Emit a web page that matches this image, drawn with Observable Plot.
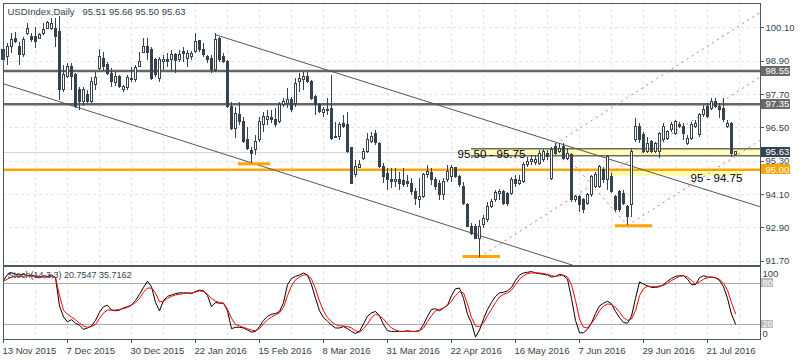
<!DOCTYPE html>
<html><head><meta charset="utf-8">
<script src="https://cdn.jsdelivr.net/npm/d3@7"></script>
<script src="https://cdn.jsdelivr.net/npm/@observablehq/plot@0.6"></script>
<style>
body{margin:0;background:#fff;}
#wrap{position:relative;width:800px;height:360px;overflow:hidden;background:#fff;}
#main{position:absolute;left:0;top:0;}
#stoch{position:absolute;left:0;top:265px;}
</style></head><body><div id="wrap"><div id="main"></div><div id="stoch"></div></div>
<script>
// ---------- DATA ----------
const opens = [
98.95,99.05,99.41,99.71,99.41,99.11,99.89,99.77,99.77,99.71,
99.89,100.07,100.07,100.07,99.95,97.85,98.33,98.69,98.39,97.87,
97.43,97.67,97.43,98.03,98.63,98.99,98.75,98.45,98.11,98.33,
97.87,97.95,98.21,98.21,98.71,99.19,99.43,99.31,98.93,98.27,
98.87,98.93,98.93,99.11,98.93,99.23,98.99,99.05,99.23,99.63,
99.31,99.05,98.99,98.57,99.71,99.05,98.87,97.25,96.47,96.95,
96.71,96.05,95.67,95.69,96.05,96.59,96.79,96.85,96.79,96.71,
97.31,97.37,97.49,97.37,98.15,98.21,98.33,98.15,97.61,97.31,
97.05,97.15,97.19,96.19,96.19,96.65,96.59,95.79,94.79,95.07,
95.39,95.63,95.99,96.27,95.93,95.09,94.85,94.61,94.55,94.61,
94.59,94.57,94.49,94.19,93.89,94.01,94.81,94.87,94.63,94.49,
94.07,94.61,94.73,95.05,94.73,94.37,93.71,92.95,92.95,92.51,
92.99,93.17,93.67,93.89,94.13,94.21,94.11,94.11,94.61,94.47,
94.55,95.15,95.27,95.23,95.21,95.33,95.57,94.67,95.81,95.63,
95.81,95.39,95.51,93.89,94.03,93.89,93.77,94.07,94.37,94.37,
94.97,94.61,94.73,94.01,94.19,94.13,93.65,93.71,96.05,96.53,
96.23,95.63,95.99,95.63,95.63,96.05,96.11,96.41,96.29,96.59,
96.53,95.93,96.11,96.53,96.23,96.95,97.25,97.19,97.43,97.25,
97.19,96.53,96.65,95.51];
const highs = [
99.40,99.55,99.89,99.93,99.59,99.75,100.25,99.89,100.13,99.91,
100.25,100.35,100.43,100.43,100.50,98.75,98.81,98.81,98.45,97.97,
97.95,97.85,98.33,98.51,99.31,99.23,98.87,98.63,98.51,98.39,
98.03,98.39,98.69,98.75,99.23,99.71,99.71,99.41,98.99,99.05,
99.11,99.17,99.29,99.17,99.29,99.41,99.29,99.25,99.89,99.65,
99.53,99.11,99.11,99.89,99.77,99.17,98.93,97.43,97.25,97.43,
96.87,96.53,95.81,96.23,96.89,97.07,97.13,97.13,97.19,97.43,
97.55,97.91,97.61,98.27,98.45,98.51,98.51,98.21,97.67,97.37,
97.25,97.55,98.39,96.71,96.71,96.95,97.07,95.81,95.33,95.33,
95.75,96.29,96.35,96.41,95.99,95.21,95.03,95.03,95.03,94.91,
95.03,94.79,94.67,94.31,94.67,94.85,95.15,95.03,94.73,94.61,
94.67,95.15,95.15,95.09,94.79,94.55,93.77,93.05,93.03,93.17,
93.35,93.83,93.91,94.25,94.27,94.25,94.19,94.73,94.79,94.79,
95.27,95.45,95.51,95.51,95.69,95.71,95.69,95.81,95.93,95.93,
95.93,95.75,95.57,94.07,94.07,93.95,94.13,94.79,94.91,95.15,
95.09,95.51,94.85,94.07,94.25,94.25,93.71,95.75,96.83,96.65,
96.35,96.17,96.05,95.99,96.35,96.65,96.41,96.71,96.77,96.71,
96.65,96.23,96.71,96.77,97.01,97.31,97.37,97.55,97.55,97.37,
97.55,96.77,96.71,95.66];
const lows = [
98.85,98.75,99.17,99.55,98.75,99.05,99.83,99.59,99.35,99.67,
99.83,100.03,100.00,99.41,97.49,97.79,98.27,97.85,97.19,97.13,
97.27,97.37,97.37,97.85,98.57,98.57,98.39,97.97,97.99,97.91,
97.79,97.85,98.15,98.15,98.69,99.17,98.93,98.21,98.33,98.15,
98.57,98.69,98.57,98.45,98.87,98.87,98.69,98.93,99.17,99.23,
99.05,98.81,98.45,98.51,98.87,98.81,97.19,96.41,96.11,96.59,
95.95,95.69,95.21,95.51,95.99,96.35,96.59,96.65,96.53,96.65,
97.25,97.19,97.07,97.25,97.79,97.85,98.09,97.49,96.95,97.01,
96.89,96.95,96.05,96.11,96.05,96.47,95.57,94.47,94.73,95.03,
95.33,95.57,95.93,95.87,95.03,94.49,94.25,94.31,94.37,94.25,
94.37,94.37,94.07,93.71,93.59,93.95,94.67,94.43,94.25,93.89,
93.89,94.55,94.55,94.67,94.37,93.71,92.91,92.63,92.47,91.85,
92.87,93.11,93.59,93.83,93.89,93.71,93.67,94.07,94.37,94.43,
94.49,95.09,95.15,95.15,95.15,95.27,95.33,94.61,95.51,95.57,
95.33,95.33,93.83,93.83,93.47,93.41,93.71,94.01,94.31,94.31,
94.49,94.25,94.13,93.47,93.47,93.71,92.99,93.29,95.99,95.93,
95.57,95.57,95.57,95.57,95.39,95.99,96.05,96.35,96.23,96.47,
96.05,95.87,96.05,96.47,96.17,96.89,96.83,97.13,97.19,96.83,
96.71,96.47,95.45,95.50];
const closes = [
99.30,99.41,99.67,99.59,99.11,99.65,100.07,99.65,99.61,99.85,
100.01,100.27,100.25,99.77,97.85,98.39,98.69,98.33,97.25,97.43,
97.85,97.43,98.15,98.31,99.05,98.69,98.45,98.15,98.35,97.99,
97.99,98.31,98.27,98.67,98.89,99.43,99.19,98.27,98.39,98.93,
98.95,98.87,99.11,98.91,99.11,99.15,99.17,99.15,99.59,99.29,
99.11,98.95,98.57,99.65,98.93,98.87,97.25,96.47,97.01,96.71,
95.99,95.75,95.55,95.99,96.71,96.89,96.89,96.77,96.59,97.31,
97.43,97.49,97.13,98.09,98.27,98.33,98.15,97.55,97.31,97.07,
97.13,97.11,96.11,96.13,96.59,96.53,95.63,94.49,95.09,95.15,
95.63,96.05,96.17,95.95,95.09,94.75,94.61,94.55,94.61,94.49,
94.43,94.49,94.19,93.95,94.01,94.79,94.91,94.61,94.37,94.07,
94.55,94.91,95.05,94.73,94.43,93.77,92.95,92.69,92.51,92.95,
93.23,93.67,93.83,94.15,94.21,93.77,93.77,94.61,94.49,94.59,
95.17,95.27,95.33,95.35,95.57,95.63,95.45,95.71,95.57,95.75,
95.39,95.57,93.89,94.01,93.71,93.53,94.07,94.73,94.79,95.09,
94.61,95.45,94.19,93.55,93.53,93.77,93.29,95.63,96.53,96.05,
95.63,95.93,95.63,95.93,96.29,96.53,96.35,96.59,96.71,96.53,
96.29,96.11,96.59,96.65,96.95,97.15,96.89,97.43,97.25,97.13,
96.77,96.65,95.57,95.63];

const stochK = [
84,93,95,93,92,93,91,92,90,88,91,90,92,88,
47,31,24,27,22,19,13,15,18,26,38,46,48,41,
40,41,44,46,48,55,64,74,83,75,52,40,55,61,
63,65,66,66,66,65,68,70,69,62,46,52,51,51,
40,14,16,16,15,12,9,10,17,26,32,35,36,39,
52,78,87,90,92,95,92,78,58,40,30,25,19,15,
15,17,14,10,7,10,21,32,37,39,33,20,11,10,10,
10,10,11,10,10,11,20,32,42,43,40,44,48,62,72,
73,58,35,22,2,12,28,42,52,61,66,67,69,74,84,
92,95,96,97,95,94,93,92,89,90,93,91,86,58,26,
8,8,13,22,36,47,51,54,50,39,30,23,22,32,58,
82,79,76,74,74,75,78,83,87,90,91,91,86,78,78,
88,91,89,89,88,84,75,58,35,20.75];
const stochD = [
83,86,89,90,90,90,91,90,91,90,89,89,90,88,
62,41,35,31,27,22,18,16,17,20,29,37,41,41,
41,42,43,45,48,52,58,67,73,73,66,53,54,58,
61,63,64,65,66,66,67,69,68,64,58,54,52,51,
42,29,20,18,16,14,12,11,14,21,27,31,34,37,
45,62,76,85,89,92,92,86,72,54,40,30,24,20,
18,18,17,15,11,9,14,21,30,35,33,28,21,15,12,
10,10,10,10,10,11,15,24,33,40,42,44,48,54,62,
68,66,50,30,18,17,22,33,42,52,60,64,66,70,78,
86,91,94,95,95,95,94,93,91,90,91,92,89,78,55,
28,16,15,22,30,40,47,50,49,45,38,30,26,28,40,
62,72,76,75,75,76,77,80,84,87,90,91,89,84,79,
82,86,88,89,88,86,80,70,52,35.72];

const dateLabels = ["13 Nov 2015","7 Dec 2015","30 Dec 2015","22 Jan 2016","15 Feb 2016","8 Mar 2016","31 Mar 2016","22 Apr 2016","16 May 2016","7 Jun 2016","29 Jun 2016","21 Jul 2016"];
const dateIdx = [0,16,32,48,64,80,96,112,128,144,160,176];
const priceTicks = [100.10,98.90,97.70,96.50,95.30,94.10,92.90,91.70];
const stochLevels = [20,80];

const resistLevels = [98.55,97.35];
const supportLevel = [95.00];
const lastPrice = [95.63];
const tagPrices = [98.55,97.35,95.63,95.00];

// zones (yellow)
const zoneStart = [117,151];
const zoneEnd = [189.25,185];
const zoneLow = [95.50,94.75];
const zoneHigh = [95.75,95.00];
const zoneText = ["95.50 - 95.75","95 - 94.75"];
const zoneTextIdx = [113.5,171.75];
const zoneTextPrice = [95.55,94.70];

// orange swing markers
const markStart = [58.75,114.9,153];
const markEnd = [66.75,124.25,162.3];
const markPrice = [95.21,91.87,92.98];

// descending channel
const chanX1 = [53,0], chanY1 = [99.855,98.09], chanX2 = [189.25,142.5], chanY2 = [93.66,91.55];
// pitchfork (dashed red)
const pfX1 = [119,138,156,138], pfY1 = [91.85,95.93,92.99,95.93];
const pfX2 = [189.25,189.25,189.25,156], pfY2 = [98.34,100.67,96.06,92.99];

const title = "USDIndex,Daily\u00a0\u00a0 95.51 95.66 95.50 95.63";
const stochTitle = "Stoch(14,3,3) 20.7547 35.7162";

// ---------- BUILD ----------
const DARK = "#36434f";
const FONT = '"Liberation Sans", Arial, sans-serif';
const XMAX = 189.25;
const candles = opens.map((o,i)=>({i,o,h:highs[i],l:lows[i],c:closes[i]}));
const bulls = candles.filter(d=>d.c>=d.o), bears = candles.filter(d=>d.c<d.o);
const by1 = d=>Math.min(d.o,d.c), by2 = d=>Math.max(d.o,d.c,Math.min(d.o,d.c)+0.02);
const gridIdx = d3.range(8,XMAX,8);
const zones = zoneStart.map((s,k)=>({s,e:zoneEnd[k],lo:zoneLow[k],hi:zoneHigh[k]}));
const marks3 = markStart.map((s,k)=>({s,e:markEnd[k],p:markPrice[k]}));
const chan = chanX1.map((x,k)=>({x1:x,y1:chanY1[k],x2:chanX2[k],y2:chanY2[k]}));
const pf = pfX1.map((x,k)=>({x1:x,y1:pfY1[k],x2:pfX2[k],y2:pfY2[k]}));
const tagColors = ["#6a6a6a","#6a6a6a",DARK,"#ffa500"];
const crisp = {shapeRendering:"crispEdges"};

const tagMarks = [];
tagPrices.forEach((p,k)=>{
  tagMarks.push(Plot.rect([p],{x1:XMAX+0.2,x2:XMAX+7.6,y1:d=>d-0.18,y2:d=>d+0.18,fill:tagColors[k],...crisp}));
  tagMarks.push(Plot.text([p],{x:XMAX,y:d=>d,text:d=>d.toFixed(2),dx:5,textAnchor:"start",fill:"#fff",fontSize:9.5}));
});

const main = Plot.plot({
  width:800, height:266, marginTop:3, marginBottom:1, marginLeft:3, marginRight:40,
  x:{domain:[0,XMAX], axis:null},
  y:{domain:[91.55,100.98], axis:null},
  style:{fontFamily:FONT, fontSize:"9.5px", background:"transparent", overflow:"visible"},
  marks:[
    Plot.ruleX(gridIdx,{stroke:"#e4e4e4",strokeDasharray:"3,3",...crisp}),
    Plot.ruleY(priceTicks,{stroke:"#e4e4e4",strokeDasharray:"3,3",...crisp}),
    Plot.ruleY(lastPrice,{stroke:"#d6d6d6",...crisp}),
    Plot.rect(zones,{x1:"s",x2:"e",y1:"lo",y2:"hi",fill:"#ffffb4",...crisp}),
    Plot.ruleY([zones[0]],{x1:"s",x2:"e",y:"hi",stroke:"#6a6a6a",strokeWidth:1.5}),
    Plot.ruleY([zones[0]],{x1:"s",x2:"e",y:"lo",stroke:"#6a6a6a",strokeWidth:1.5}),
    Plot.ruleY(supportLevel,{stroke:"#ffa500",strokeWidth:2.5}),
    Plot.ruleY(resistLevels,{stroke:"#666666",strokeWidth:2.5}),
    Plot.link(chan,{x1:"x1",y1:"y1",x2:"x2",y2:"y2",stroke:"#555",strokeWidth:1}),
    Plot.link(pf,{x1:"x1",y1:"y1",x2:"x2",y2:"y2",stroke:"#ee6a6a",strokeWidth:1,strokeDasharray:"2,4"}),
    Plot.ruleY(marks3,{x1:"s",x2:"e",y:"p",stroke:"#ffa500",strokeWidth:3}),
    Plot.ruleX(candles,{x:"i",y1:"l",y2:"h",stroke:DARK,...crisp}),
    Plot.rect(bears,{x1:d=>d.i-0.25,x2:d=>d.i+0.25,y1:by1,y2:by2,fill:DARK,stroke:DARK,...crisp}),
    Plot.rect(bulls,{x1:d=>d.i-0.25,x2:d=>d.i+0.25,y1:by1,y2:by2,fill:"#fff",stroke:DARK,...crisp}),
    Plot.text(zoneText,{x:(d,k)=>zoneTextIdx[k],y:(d,k)=>zoneTextPrice[k],text:d=>d,textAnchor:"start",fontSize:11.5,fill:"#000"}),
    Plot.text([title],{x:1,y:100.66,text:d=>d,textAnchor:"start",fill:DARK,fontSize:9.5}),
    Plot.frame({stroke:"#4a5868",...crisp}),
    Plot.ruleY(priceTicks,{x1:XMAX,x2:XMAX+1,stroke:"#4a5868",...crisp}),
    Plot.text(priceTicks,{x:XMAX,y:d=>d,text:d=>d.toFixed(2),dx:5,textAnchor:"start",fill:DARK,fontSize:9.5}),
    ...tagMarks
  ]
});
document.getElementById("main").appendChild(main);

const stoch = Plot.plot({
  width:800, height:95, marginTop:1, marginBottom:21, marginLeft:3, marginRight:40,
  x:{domain:[0,XMAX], axis:null},
  y:{domain:[-1.74,104.36], axis:null},
  style:{fontFamily:FONT, fontSize:"9.5px", background:"transparent", overflow:"visible"},
  marks:[
    Plot.ruleX(gridIdx,{stroke:"#e4e4e4",strokeDasharray:"3,3",...crisp}),
    Plot.ruleY(stochLevels,{stroke:"#ababab",...crisp}),
    Plot.line(stochK,{x:(d,i)=>i,y:d=>d,stroke:"#000",strokeWidth:1}),
    Plot.line(stochD,{x:(d,i)=>i,y:d=>d,stroke:"#ff0000",strokeWidth:1}),
    Plot.text([stochTitle],{x:1,y:91.3,text:d=>d,textAnchor:"start",fill:DARK,fontSize:9}),
    Plot.frame({stroke:"#4a5868",...crisp}),
    Plot.rect(stochLevels,{x1:XMAX+0.2,x2:XMAX+3.2,y1:d=>d-6.3,y2:d=>d+6.3,fill:"#b8b8b8",...crisp}),
    Plot.text(stochLevels,{x:XMAX,y:d=>d,text:d=>String(d),dx:2,textAnchor:"start",fill:"#fff",fontSize:9}),
    Plot.text([100],{x:XMAX,y:d=>d,text:d=>String(d),dx:2,dy:4,textAnchor:"start",fill:DARK,fontSize:9.5}),
    Plot.text([0],{x:XMAX,y:d=>d,text:d=>String(d),dx:2,dy:-4,textAnchor:"start",fill:DARK,fontSize:9.5}),
    Plot.ruleX(dateIdx,{y1:-1.74,y2:-7.5,stroke:"#4a5868",...crisp}),
    Plot.text(dateLabels,{x:(d,k)=>dateIdx[k],y:-1.74,text:d=>d,dy:11,dx:-1,textAnchor:"start",fill:DARK,fontSize:9.5})
  ]
});
document.getElementById("stoch").appendChild(stoch);
</script>
</body></html>
